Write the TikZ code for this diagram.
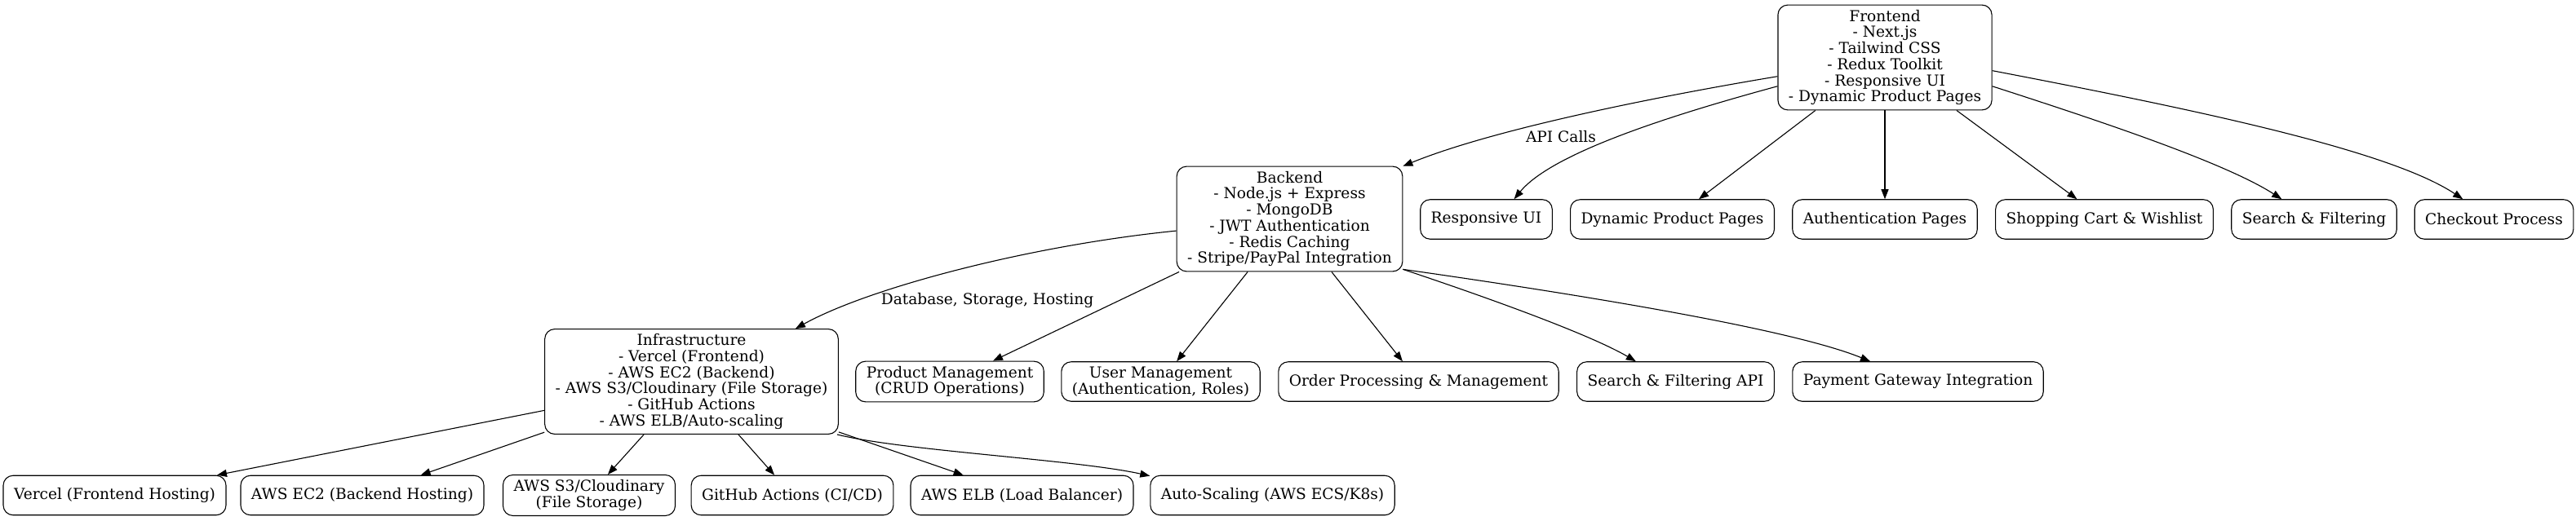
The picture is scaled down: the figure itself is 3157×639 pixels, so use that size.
\documentclass[tikz,border=0pt]{standalone}
\usepackage{fontspec}
\setmainfont{DejaVu Serif}
\usetikzlibrary{arrows.meta}

\begin{document}
\begin{tikzpicture}[x=1pt,y=1pt,line width=1.1pt,
  >={Triangle[length=12pt,width=9pt]},
  box/.style={draw,rounded corners=12pt,align=center,inner xsep=13pt,inner ysep=6pt,
    minimum height=48.5pt,font=\fontsize{18.6}{19.7}\selectfont},
  lbl/.style={inner sep=0pt,font=\fontsize{18.6}{19.7}\selectfont}]
  \useasboundingbox (0,0) rectangle (3157,-639);

  %% Main blocks
  \node[box] (fe) at (2310,-70.5) {Frontend\\- Next.js\\- Tailwind CSS\\- Redux Toolkit\\- Responsive UI\\- Dynamic Product Pages};
  \node[box] (be) at (1580.5,-268.5) {Backend\\- Node.js + Express\\- MongoDB\\- JWT Authentication\\- Redis Caching\\- Stripe/PayPal Integration};
  \node[box] (infra) at (847.5,-468) {Infrastructure\\- Vercel (Frontend)\\- AWS EC2 (Backend)\\- AWS S3/Cloudinary (File Storage)\\- GitHub Actions\\- AWS ELB/Auto-scaling};

  %% Frontend parts
  \node[box] (rui) at (1821.5,-269) {Responsive UI};
  \node[box] (dpp) at (2049.5,-269) {Dynamic Product Pages};
  \node[box] (auth) at (2310,-269) {Authentication Pages};
  \node[box] (cart) at (2579,-269) {Shopping Cart \& Wishlist};
  \node[box] (sf) at (2836,-269) {Search \& Filtering};
  \node[box] (co) at (3056.5,-269) {Checkout Process};

  %% Backend parts
  \node[box] (pm) at (1164,-468) {Product Management\\(CRUD Operations)};
  \node[box] (um) at (1422.5,-468) {User Management\\(Authentication, Roles)};
  \node[box] (op) at (1738.5,-468) {Order Processing \& Management};
  \node[box] (sfa) at (2053.5,-468) {Search \& Filtering API};
  \node[box] (pg) at (2350.5,-468) {Payment Gateway Integration};

  %% Infrastructure parts
  \node[box] (vh) at (140.5,-607.5) {Vercel (Frontend Hosting)};
  \node[box] (ec2) at (444,-607.5) {AWS EC2 (Backend Hosting)};
  \node[box] (s3) at (722,-607.5) {AWS S3/Cloudinary\\(File Storage)};
  \node[box] (gha) at (971,-607.5) {GitHub Actions (CI/CD)};
  \node[box] (elb) at (1252.5,-607.5) {AWS ELB (Load Balancer)};
  \node[box] (asc) at (1559.5,-607.5) {Auto-Scaling (AWS ECS/K8s)};

  %% Edges
  \draw[->] (fe.190) .. controls +(-150,-25) and +(110,45) .. (be.25);
  \node[lbl] (api) at (1913,-168) {API Calls};
  \draw[->] (fe.195) .. controls +(-140,-38) and +(45,55) .. (rui.36);
  \draw[->] (fe) -- (dpp);
  \draw[->] (fe) -- (auth);
  \draw[->] (fe) -- (cart);
  \draw[->] (fe.-15) .. controls +(130,-42) and +(-70,45) .. (sf.148);
  \draw[->] (fe.-7) .. controls +(250,-48) and +(-90,60) .. (co.147);

  \draw[->] (be.186) .. controls +(-180,-18) and +(90,50) .. (infra.27);
  \node[lbl] (dsh) at (1210,-368) {Database, Storage, Hosting};
  \draw[->] (be) -- (pm);
  \draw[->] (be) -- (um);
  \draw[->] (be) -- (op);
  \draw[->] (be.-24) .. controls +(90,-30) and +(-60,35) .. (sfa.153);
  \draw[->] (be.-24) .. controls +(140,-20) and +(-110,45) .. (pg.157);

  \draw[->] (infra) -- (vh);
  \draw[->] (infra) -- (ec2);
  \draw[->] (infra) -- (s3);
  \draw[->] (infra) -- (gha);
  \draw[->] (infra) -- (elb);
  \draw[->] (infra.-20) .. controls +(80,-20) and +(-90,20) .. (asc.171);
\end{tikzpicture}
\end{document}
